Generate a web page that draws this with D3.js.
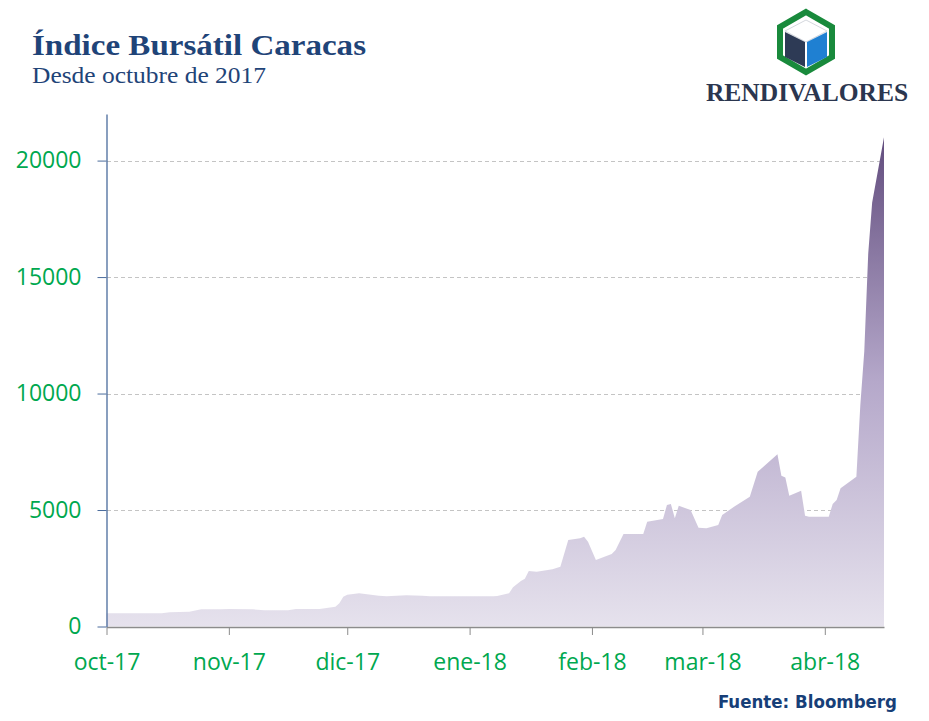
<!DOCTYPE html>
<html lang="es">
<head>
    <meta charset="UTF-8">
    <script src="https://d3js.org/d3.v7.min.js"></script>
    <style>
        body { margin: 0; background: #fff; }
    </style>
</head>
<body>
<div id="chart"></div>
<script>
    // Índice Bursátil Caracas
    var dates = ["2017-10-01", "2017-10-15", "2017-10-17", "2017-10-22", "2017-10-25", "2017-10-30",
        "2017-11-01", "2017-11-07", "2017-11-10", "2017-11-16", "2017-11-18", "2017-11-24",
        "2017-11-28", "2017-11-29", "2017-11-30", "2017-12-01", "2017-12-04", "2017-12-06",
        "2017-12-09", "2017-12-11", "2017-12-16", "2017-12-20", "2017-12-22", "2018-01-07",
        "2018-01-08", "2018-01-11", "2018-01-12", "2018-01-14", "2018-01-15", "2018-01-16",
        "2018-01-18", "2018-01-22", "2018-01-24", "2018-01-26", "2018-01-29", "2018-01-30",
        "2018-01-31", "2018-02-02", "2018-02-06", "2018-02-07", "2018-02-09", "2018-02-14",
        "2018-02-15", "2018-02-19", "2018-02-20", "2018-02-21", "2018-02-22", "2018-02-23",
        "2018-02-26", "2018-02-28", "2018-03-02", "2018-03-05", "2018-03-06", "2018-03-09",
        "2018-03-13", "2018-03-15", "2018-03-20", "2018-03-21", "2018-03-22", "2018-03-23",
        "2018-03-26", "2018-03-27", "2018-03-28", "2018-04-02", "2018-04-03", "2018-04-04",
        "2018-04-05", "2018-04-09", "2018-04-10", "2018-04-11", "2018-04-12", "2018-04-13",
        "2018-04-16"];
    var values = [565, 565, 610, 635, 740, 740,
        750, 740, 695, 695, 750, 750,
        850, 995, 1280, 1365, 1425, 1380,
        1320, 1295, 1340, 1320, 1295, 1295,
        1310, 1425, 1680, 1950, 2050, 2380,
        2350, 2455, 2570, 3710, 3785, 3855,
        3640, 2855, 3110, 3285, 3970, 3970,
        4500, 4615, 5215, 5260, 4645, 5185,
        5000, 4240, 4215, 4355, 4785, 5140,
        5570, 6645, 7390, 6470, 6400, 5615,
        5830, 4755, 4710, 4710, 5260, 5430,
        5930, 6430, 9500, 11800, 16000, 18200,
        21000];
    var yTicks = [0, 5000, 10000, 15000, 20000];
    var monthTicks = ["2017-10-01", "2017-11-01", "2017-12-01", "2018-01-01", "2018-02-01", "2018-03-01", "2018-04-01"];
    var monthLabels = ["oct-17", "nov-17", "dic-17", "ene-18", "feb-18", "mar-18", "abr-18"];

    var width = 929, height = 721;
    var parseDate = d3.timeParse("%Y-%m-%d");

    var data = dates.map(function(d, i) {
        return {date: parseDate(d), value: values[i]};
    });

    var x = d3.scaleTime()
        .domain([parseDate("2017-10-01"), parseDate("2018-04-16")])
        .range([106.5, 884]);
    var y = d3.scaleLinear()
        .domain([0, 22000])
        .range([626.5, 114]);

    var svg = d3.select("#chart")
        .append("svg")
            .attr("width", width)
            .attr("height", height);

    var defs = svg.append("defs");
    var grad = defs.append("linearGradient")
        .attr("id", "areaGrad")
        .attr("gradientUnits", "userSpaceOnUse")
        .attr("x1", 0).attr("x2", 0)
        .attr("y1", y(0)).attr("y2", y(21000));
    grad.append("stop").attr("offset", "0%").attr("stop-color", "#e6e2ed");
    grad.append("stop").attr("offset", "50%").attr("stop-color", "#b5a8ca");
    grad.append("stop").attr("offset", "100%").attr("stop-color", "#624d7e");

    // titulo
    svg.append("text")
        .attr("x", 32).attr("y", 55)
        .attr("font-family", "'Liberation Serif', serif")
        .attr("font-weight", "bold")
        .attr("font-size", 30)
        .attr("textLength", 334)
        .attr("lengthAdjust", "spacingAndGlyphs")
        .attr("fill", "#1f4478")
        .text("Índice Bursátil Caracas");
    svg.append("text")
        .attr("x", 32).attr("y", 83)
        .attr("font-family", "'Liberation Serif', serif")
        .attr("font-size", 24)
        .attr("textLength", 234)
        .attr("lengthAdjust", "spacingAndGlyphs")
        .attr("fill", "#1f4478")
        .text("Desde octubre de 2017");

    // logo
    var logo = svg.append("g");
    logo.append("polygon")
        .attr("points", "806,12 832,27 832,57 806,72 780,57 780,27")
        .attr("fill", "#fff")
        .attr("stroke", "#198a3c")
        .attr("stroke-width", 6);
    logo.append("polygon")
        .attr("points", "806,20 827,31 806,42 785,31")
        .attr("fill", "#ffffff")
        .attr("stroke", "#d5d8de")
        .attr("stroke-width", 1);
    logo.append("polygon")
        .attr("points", "785,32 805,42 805,67 785,57")
        .attr("fill", "#2d3a55");
    logo.append("polygon")
        .attr("points", "807,42 827,32 827,57 807,67")
        .attr("fill", "#1f80d2");
    logo.append("text")
        .attr("x", 807).attr("y", 101)
        .attr("text-anchor", "middle")
        .attr("font-family", "'Liberation Serif', serif")
        .attr("font-weight", "bold")
        .attr("font-size", 25.5)
        .attr("fill", "#2b364f")
        .text("RENDIVALORES");

    // grid
    svg.append("g")
        .selectAll("line")
        .data(yTicks.slice(1))
        .enter().append("line")
            .attr("x1", 107).attr("x2", 884)
            .attr("y1", function(d) { return Math.round(y(d)) + 0.5; })
            .attr("y2", function(d) { return Math.round(y(d)) + 0.5; })
            .attr("stroke", "#c4c4c4")
            .attr("stroke-dasharray", "4,3");

    var area = d3.area()
        .x(function(d) { return x(d.date); })
        .y0(y(0))
        .y1(function(d) { return y(d.value); });

    svg.append("path")
        .datum(data)
        .attr("d", area)
        .attr("fill", "url(#areaGrad)");

    // eje x
    var xAxis = d3.axisBottom(x)
        .tickValues(monthTicks.map(parseDate))
        .tickFormat(function(d, i) { return monthLabels[i]; })
        .tickSize(8)
        .tickSizeOuter(0);
    var gx = svg.append("g")
        .attr("transform", "translate(0," + 627 + ")")
        .call(xAxis);
    gx.select(".domain").attr("stroke", "#8c8c8c").attr("stroke-width", 1.5);
    gx.selectAll(".tick line").attr("stroke", "#8c8c8c");
    gx.selectAll(".tick text")
        .attr("dy", 0).attr("y", 43)
        .attr("font-family", "'Open Sans', sans-serif")
        .attr("font-size", 23)
        .attr("fill", "#00a84f");

    // eje y
    var yAxis = d3.axisLeft(y)
        .tickValues(yTicks)
        .tickFormat(d3.format("d"))
        .tickSize(9)
        .tickSizeOuter(0);
    var gy = svg.append("g")
        .attr("transform", "translate(" + 106.5 + ",0)")
        .call(yAxis);
    gy.select(".domain").attr("stroke", "#4a6b9c").attr("stroke-width", 1.3);
    gy.selectAll(".tick line").attr("stroke", "#4a6b9c");
    gy.selectAll(".tick text")
        .attr("x", -25)
        .attr("font-family", "'Open Sans', sans-serif")
        .attr("font-size", 23)
        .attr("fill", "#00a84f");

    // fuente
    svg.append("text")
        .attr("x", 897).attr("y", 708)
        .attr("text-anchor", "end")
        .attr("font-family", "'DejaVu Sans Condensed', 'DejaVu Sans', sans-serif")
        .attr("font-weight", "bold")
        .attr("font-size", 18.5)
        .attr("fill", "#173f78")
        .text("Fuente: Bloomberg");
</script>
</body>
</html>
